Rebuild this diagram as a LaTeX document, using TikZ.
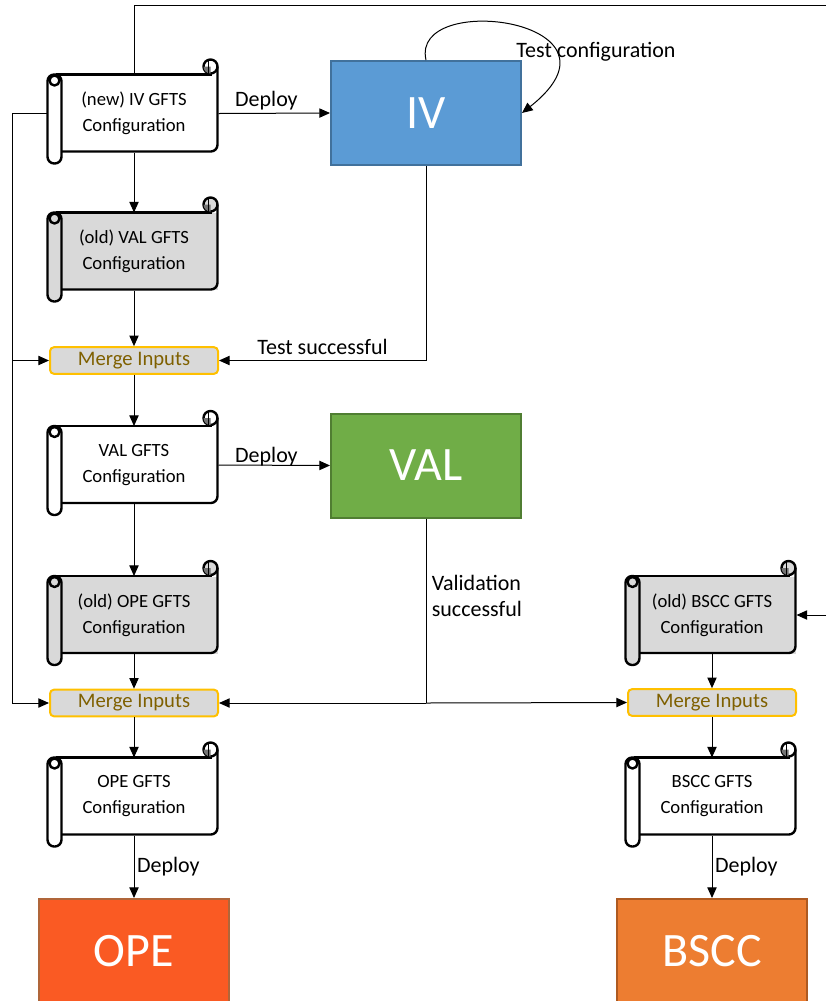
\documentclass[tikz,border=0pt]{standalone}
\usepackage{fontspec}
\setmainfont{Carlito}
\usetikzlibrary{arrows.meta}
\definecolor{oldgray}{HTML}{D9D9D9}
\definecolor{mergeedge}{HTML}{FFC000}
\definecolor{mergetext}{HTML}{7F6000}
\definecolor{ivfill}{HTML}{5B9BD5}
\definecolor{ivedge}{HTML}{41719C}
\definecolor{valfill}{HTML}{70AD47}
\definecolor{valedge}{HTML}{507E32}
\definecolor{opefill}{HTML}{FA5A23}
\definecolor{opeedge}{HTML}{B0663A}
\definecolor{bsccfill}{HTML}{ED7D31}
\definecolor{bsccedge}{HTML}{AE5A21}

\begin{document}
\begin{tikzpicture}
		[x=0.75pt, y=-0.75pt, line width=0.75pt,
		>={Triangle[length=8pt,width=7pt]},
		conf/.style = {rectangle, minimum width=126pt, minimum height=57.75pt, inner sep=0pt,
			align=center, font=\fontsize{14}{19.5}\selectfont},
		merge/.style = {rectangle, rounded corners=3pt, fill=oldgray, draw=mergeedge, line width=1.5pt,
			minimum width=126pt, minimum height=20pt, inner sep=0pt, text=mergetext,
			font=\fontsize{15.5}{18}\selectfont},
		env/.style = {rectangle, line width=1.5pt, minimum width=142.5pt, minimum height=78pt,
			text=white, font=\fontsize{36}{40}\selectfont},
		lbl/.style = {font=\fontsize{16.5}{20}\selectfont, inner sep=2pt},
		scrollline/.style = {line width=1.8pt, line join=round}]
	\useasboundingbox (0,0) rectangle (826,1001);
	\node[conf, fill=white] (c1) at (134,113.5) {(new) IV GFTS\\Configuration};
	\node[conf, fill=oldgray] (c2) at (134,251.5) {(old) VAL GFTS\\Configuration};
	\node[merge] (m1) at (134,360.5) {Merge Inputs};
	\node[conf, fill=white] (c3) at (134,465) {VAL GFTS\\Configuration};
	\node[conf, fill=oldgray] (c4) at (134,615) {(old) OPE GFTS\\Configuration};
	\node[merge] (m2) at (134,703) {Merge Inputs};
	\node[conf, fill=white] (c5) at (134,796.5) {OPE GFTS\\Configuration};
	\node[env, fill=opefill, draw=opeedge] (ope) at (134,951) {OPE};
	\node[env, fill=ivfill, draw=ivedge] (iv) at (426,113) {IV};
	\node[env, fill=valfill, draw=valedge] (val) at (426,465.5) {VAL};
	\node[conf, fill=oldgray] (c6) at (712,615) {(old) BSCC GFTS\\Configuration};
	\node[merge] (m3) at (712,702.5) {Merge Inputs};
	\node[conf, fill=white] (c7) at (712,796.5) {BSCC GFTS\\Configuration};
	\node[env, fill=bsccfill, draw=bsccedge] (bscc) at (712,951) {BSCC};
	\node[lbl] (tc) at (596,52) {Test configuration};
	\coordinate (l1) at (12,113.5);
	\coordinate (tr) at (826,5);
	\coordinate (br) at (826,615);
	\coordinate (j) at (val.south |- m2.east);
	\draw (c1.north) |- (tr);
	\draw[->] (br) -- (c6.east);
	\draw[->] (c1.west) -- (l1) |- (m2.west);
	\draw[->] (l1 |- m1.west) -- (m1.west);
	\draw[->] (iv.north) .. controls (410,-10) and (640,20) .. (iv.east);
	\draw[->] (c1.east) -- node[above, pos=0.43, lbl] {Deploy} (iv.west);
	\draw[->] (c1.south) -- (c2.north);
	\draw[->] (c2.south) -- (m1.north);
	\draw[->] (iv.south) |- node[above, pos=0.75, lbl, yshift=2pt] {Test successful} (m1.east);
	\draw[->] (m1.south) -- (c3.north);
	\draw[->] (c3.east) -- node[above, pos=0.43, lbl, yshift=-3pt] {Deploy} (val.west);
	\draw[->] (c3.south) -- (c4.north);
	\draw[->] (c4.south) -- (m2.north);
	\draw (val.south) -- node[right, pos=0.42, lbl, align=left, xshift=2pt] {Validation\\successful} (j);
	\draw[->] (j) -- (m2.east);
	\draw[->] (j) -- (m3.west);
	\draw[->] (m2.south) -- (c5.north);
	\draw[->] (c5.south) -- node[right, lbl] {Deploy} (ope.north);
	\draw[->] (c6.south) -- (m3.north);
	\draw[->] (m3.south) -- (c7.north);
	\draw[->] (c7.south) -- node[right, lbl] {Deploy} (bscc.north);
	% scroll outlines
	\foreach \n/\c in {c1/white, c2/oldgray, c3/white, c4/oldgray, c5/white, c6/oldgray, c7/white} {
		\begin{scope}[shift={(\n.north west)}]
			\draw[scrollline, rounded corners=5pt] (12,77) -- (168,77) -- (168,-8);
			\draw[scrollline] (6,0) -- (162,0);
			\draw[scrollline, fill=\c] (161,-8) circle[radius=7];
			\fill[black!55] (161,-8) -- (154,-8) arc[start angle=180, end angle=90, radius=7] -- cycle;
			\draw[line width=1pt] (159,-15) -- (159,0);
			\draw[scrollline, fill=\c, rounded corners=5pt] (-2,0) rectangle (12,89);
			\draw[scrollline, fill=\c] (5,6) circle[radius=5];
		\end{scope}
	}
\end{tikzpicture}
\end{document}
